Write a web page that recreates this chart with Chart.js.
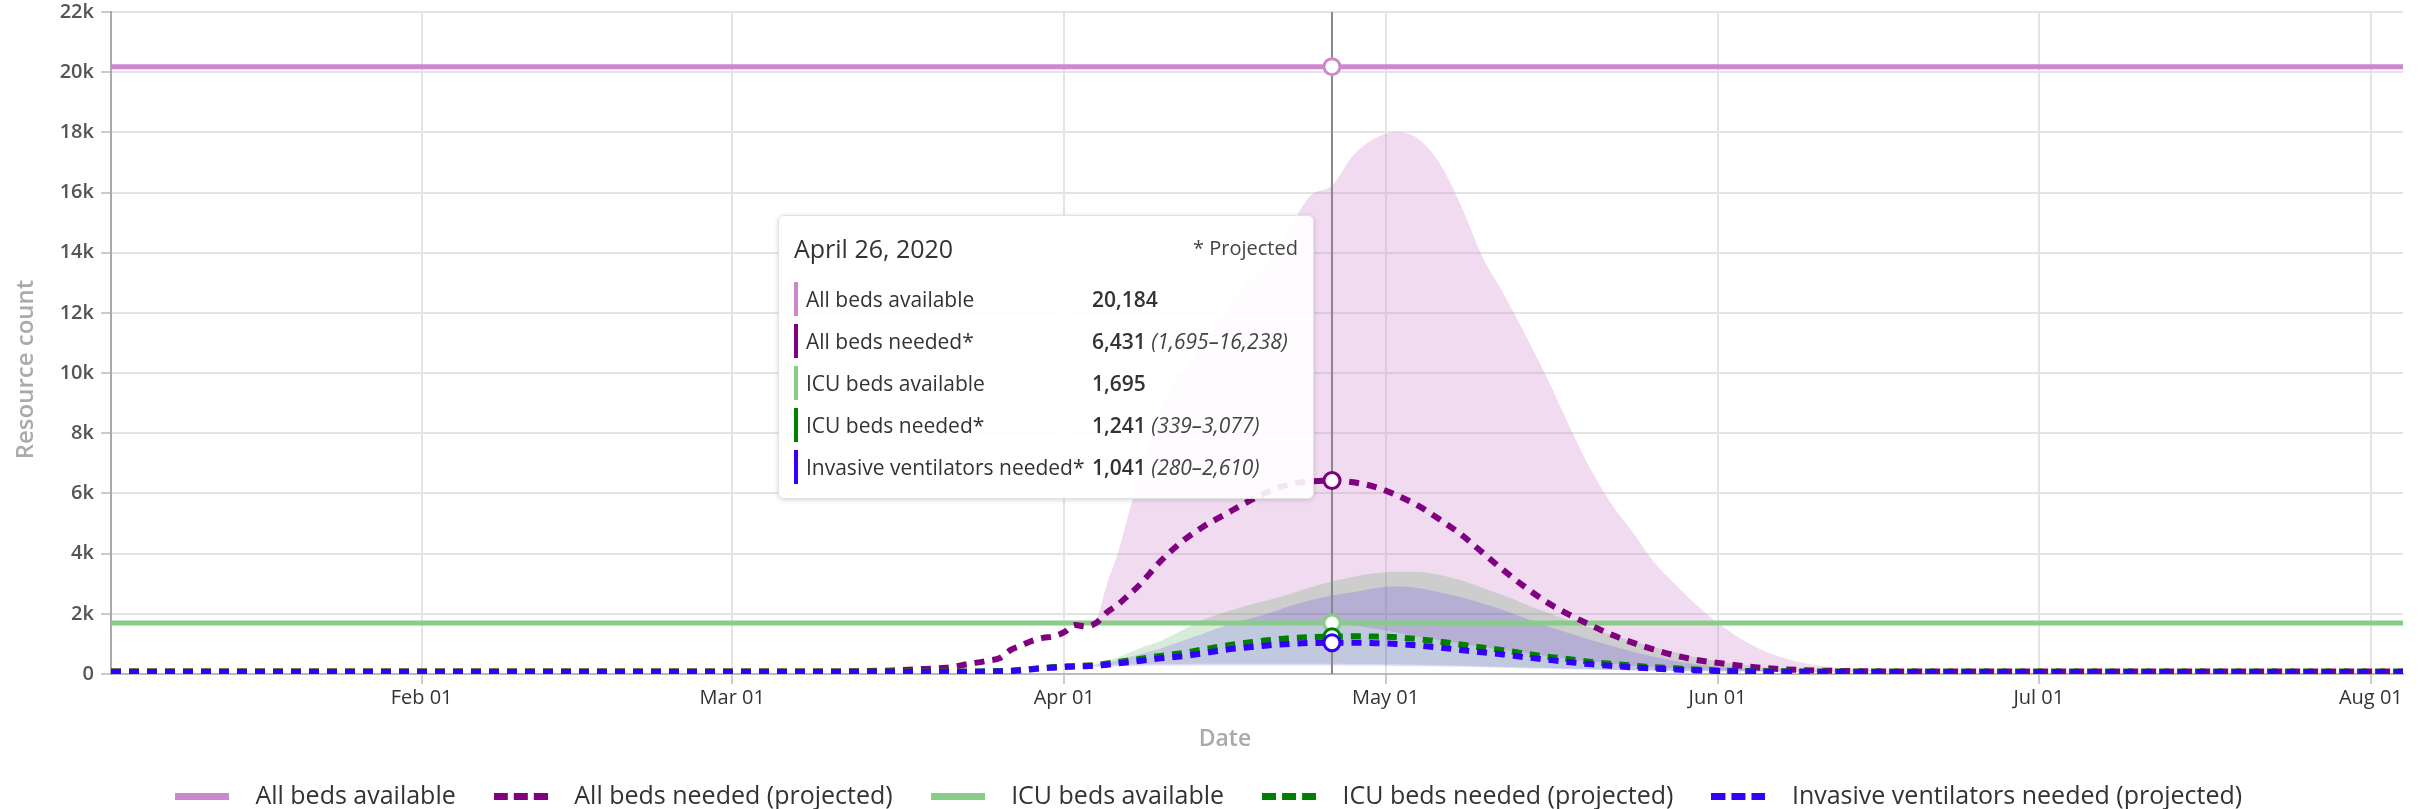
<!DOCTYPE html>
<html>
<head>
<meta charset="utf-8">
<title>Hospital resource use</title>
<script src="https://cdn.jsdelivr.net/npm/chart.js@4.4.1/dist/chart.umd.min.js"></script>
<style>
  html, body { margin: 0; padding: 0; background: #fff; }
  #wrap { position: relative; width: 2427px; height: 809px; overflow: hidden; }
  #tip {
    position: absolute; display: none; box-sizing: border-box;
    width: 536px; height: 284px; padding: 0 15px;
    background: rgba(255, 255, 255, 0.9);
    border: 1px solid #e2e2e2; border-radius: 6px;
    box-shadow: 0 1px 5px rgba(0, 0, 0, 0.16);
    font-family: 'Open Sans', sans-serif; color: #333;
  }
  #tip .head { display: flex; justify-content: space-between; height: 62px; line-height: 64px; }
  #tip .title { font-size: 25px; font-weight: 500; }
  #tip .note { font-size: 20px; color: #444; }
  #tip .row { height: 42px; display: flex; align-items: center; font-size: 21px; white-space: nowrap; }
  #tip .lab { display: inline-block; width: 286px; height: 34px; line-height: 34px; padding-left: 8px; border-left: 4px solid; }
  #tip .val b { font-weight: 600; }
  #tip .val i { color: #444; }
</style>
</head>
<body>
<div id="wrap">
  <canvas id="chart" width="2427" height="809"></canvas>
  <div id="tip"></div>
</div>
<script>
// Projected series (daily model output, sampled)
const projDates = [
  '2020-01-03', '2020-02-01', '2020-03-01', '2020-03-11', '2020-03-16', '2020-03-19', '2020-03-21', '2020-03-23',
  '2020-03-25', '2020-03-26', '2020-03-27', '2020-03-28', '2020-03-29', '2020-03-30', '2020-03-31', '2020-04-01',
  '2020-04-02', '2020-04-03', '2020-04-04', '2020-04-05', '2020-04-06', '2020-04-07', '2020-04-08', '2020-04-10',
  '2020-04-12', '2020-04-14', '2020-04-16', '2020-04-18', '2020-04-20', '2020-04-22', '2020-04-24', '2020-04-26',
  '2020-04-28', '2020-04-30', '2020-05-02', '2020-05-04', '2020-05-06', '2020-05-08', '2020-05-10', '2020-05-12',
  '2020-05-14', '2020-05-16', '2020-05-18', '2020-05-20', '2020-05-22', '2020-05-24', '2020-05-26', '2020-05-28',
  '2020-05-30', '2020-06-01', '2020-06-04', '2020-06-07', '2020-06-11', '2020-06-15', '2020-06-19', '2020-06-29',
  '2020-07-19', '2020-08-04'
];

const allBedsNeeded = [
  80, 80, 80, 85, 120, 170, 210, 330, 450, 530, 800, 950, 1100, 1200, 1250, 1390,
  1630, 1580, 1700, 2050, 2300, 2620, 2950, 3750, 4400, 4900, 5300, 5700, 6050, 6300, 6400, 6431,
  6370, 6220, 5950, 5600, 5150, 4650, 4050, 3450, 2900, 2400, 2000, 1650, 1320, 1050, 820, 620,
  470, 370, 240, 160, 110, 90, 85, 80, 80, 80
];
const allBedsUpper = [
  80, 80, 80, 85, 120, 170, 210, 330, 450, 530, 800, 950, 1100, 1200, 1250, 1390,
  1630, 1580, 1800, 3000, 4000, 5300, 6600, 8800, 10000, 10900, 12000, 13000, 13700, 14800, 15900, 16238,
  17250, 17800, 18000, 17800, 17000, 15600, 13900, 12650, 11300, 9900, 8360, 6900, 5700, 4750, 3750, 3000,
  2300, 1700, 1000, 550, 250, 150, 100, 80, 80, 80
];
const allBedsLower = [
  80, 80, 80, 85, 120, 170, 210, 330, 450, 530, 800, 950, 1100, 1200, 1250, 1390,
  1630, 1580, 1600, 1650, 1660, 1670, 1680, 1690, 1700, 1700, 1700, 1700, 1700, 1700, 1700, 1695,
  1620, 1500, 1380, 1250, 1130, 1010, 900, 800, 700, 600, 500, 420, 350, 280, 230, 190,
  160, 130, 100, 90, 80, 80, 80, 80, 80, 80
];

const icuNeeded = [
  80, 80, 80, 80, 80, 80, 80, 85, 90, 100, 110, 140, 170, 200, 230, 250,
  270, 280, 300, 350, 400, 450, 500, 600, 690, 820, 940, 1040, 1120, 1190, 1225, 1241,
  1255, 1245, 1220, 1160, 1080, 980, 880, 790, 680, 580, 500, 410, 340, 280, 230, 190,
  150, 120, 100, 90, 80, 80, 80, 80, 80, 80
];
const icuUpper = [
  80, 80, 80, 80, 80, 80, 80, 85, 90, 100, 110, 140, 170, 200, 230, 250,
  270, 280, 330, 450, 560, 700, 850, 1100, 1450, 1800, 2050, 2270, 2450, 2650, 2880, 3077,
  3230, 3350, 3400, 3400, 3300, 3120, 2870, 2620, 2330, 2050, 1800, 1550, 1310, 1100, 900, 720,
  560, 430, 280, 180, 120, 95, 85, 80, 80, 80
];
const icuLower = [
  80, 80, 80, 80, 80, 80, 80, 85, 90, 100, 110, 140, 170, 200, 230, 250,
  270, 280, 280, 300, 310, 320, 325, 330, 335, 338, 340, 340, 340, 340, 340, 339,
  335, 330, 320, 310, 295, 280, 260, 240, 220, 200, 180, 160, 145, 130, 115, 105,
  95, 90, 85, 80, 80, 80, 80, 80, 80, 80
];

const ventNeeded = [
  70, 70, 70, 70, 70, 70, 70, 72, 75, 85, 95, 120, 160, 190, 210, 230,
  250, 260, 270, 310, 350, 390, 430, 520, 590, 690, 800, 880, 950, 1000, 1030, 1041,
  1040, 1025, 1000, 950, 880, 800, 720, 650, 560, 480, 400, 330, 270, 220, 180, 150,
  120, 100, 85, 75, 70, 70, 70, 70, 70, 70
];
const ventUpper = [
  70, 70, 70, 70, 70, 70, 70, 72, 75, 85, 95, 120, 160, 190, 210, 230,
  250, 260, 300, 380, 460, 560, 660, 850, 1100, 1350, 1600, 1800, 2000, 2250, 2450, 2610,
  2720, 2850, 2920, 2860, 2720, 2560, 2350, 2130, 1860, 1600, 1370, 1150, 950, 750, 580, 430,
  320, 240, 160, 110, 85, 75, 70, 70, 70, 70
];
const ventLower = [
  70, 70, 70, 70, 70, 70, 70, 72, 75, 85, 95, 120, 160, 190, 210, 230,
  250, 260, 240, 250, 260, 265, 270, 275, 278, 280, 280, 280, 280, 280, 280, 280,
  278, 275, 270, 260, 250, 240, 225, 210, 195, 180, 165, 150, 135, 120, 110, 100,
  90, 85, 80, 75, 70, 70, 70, 70, 70, 70
];

// Capacity (constant)
const availDates = ['2020-01-03', '2020-04-26', '2020-08-04'];
const allBedsAvailable = [20184, 20184, 20184];
const icuBedsAvailable = [1695, 1695, 1695];

const monthTicks = ['2020-02-01', '2020-03-01', '2020-04-01', '2020-05-01', '2020-06-01', '2020-07-01', '2020-08-01'];
const hoverDate = '2020-04-26';

const legendNames = [
  'All beds available', 'All beds needed (projected)', 'ICU beds available',
  'ICU beds needed (projected)', 'Invasive ventilators needed (projected)'
];
const tipNames = [
  'All beds available', 'All beds needed*', 'ICU beds available',
  'ICU beds needed*', 'Invasive ventilators needed*'
];
const colors = ['#cc88cc', '#800080', '#88cc88', '#008000', '#3300ff'];
const isProjected = [false, true, false, true, true];

const DAY0 = Date.UTC(2020, 0, 1);
const MONTHS = ['Jan', 'Feb', 'Mar', 'Apr', 'May', 'Jun', 'Jul', 'Aug', 'Sep', 'Oct', 'Nov', 'Dec'];
const LONG_MONTHS = ['January', 'February', 'March', 'April', 'May', 'June', 'July', 'August', 'September', 'October', 'November', 'December'];
const toDay = s => (Date.parse(s + 'T00:00:00Z') - DAY0) / 864e5;
const pts = (dates, vals) => dates.map((d, i) => ({ x: toDay(d), y: vals[i] }));
const fmt = n => Math.round(n).toLocaleString('en-US');

function tickLabel(day) {
  const d = new Date(DAY0 + day * 864e5);
  return MONTHS[d.getUTCMonth()] + ' ' + String(d.getUTCDate()).padStart(2, '0');
}
function longDate(s) {
  const d = new Date(s + 'T00:00:00Z');
  return LONG_MONTHS[d.getUTCMonth()] + ' ' + d.getUTCDate() + ', ' + d.getUTCFullYear();
}

function lineSet(label, data, color, dashed, order) {
  return {
    label, data, order,
    borderColor: color, backgroundColor: color,
    borderWidth: dashed ? 6 : 5, borderDash: dashed ? [10, 8] : [],
    fill: false, cubicInterpolationMode: 'monotone',
    pointRadius: 0, pointHoverRadius: 8, pointHoverBorderWidth: 3,
    pointHoverBackgroundColor: '#fff', pointHoverBorderColor: color
  };
}
function bandSet(data, color, fill, order) {
  return {
    label: '', data, order,
    borderWidth: 0, borderColor: 'rgba(0,0,0,0)', backgroundColor: color,
    fill: fill ? '+1' : false, cubicInterpolationMode: 'monotone',
    pointRadius: 0, pointHoverRadius: 0
  };
}

// legend swatches: solid bar or three dashes
function swatch(color, dashed) {
  const c = document.createElement('canvas');
  c.width = 54; c.height = 7;
  const g = c.getContext('2d');
  g.fillStyle = color;
  if (dashed) [0, 20, 40].forEach(x => g.fillRect(x, 0, 14, 7));
  else g.fillRect(0, 0, 54, 7);
  return c;
}
const swatches = colors.map((c, i) => swatch(c, isProjected[i]));

function renderTip(context) {
  const { chart, tooltip } = context;
  const tip = document.getElementById('tip');
  if (!tooltip.dataPoints || !tooltip.dataPoints.length) { tip.style.display = 'none'; return; }
  const idx = projDates.indexOf(hoverDate);
  const ranges = [null, [allBedsLower[idx], allBedsUpper[idx]], null,
    [icuLower[idx], icuUpper[idx]], [ventLower[idx], ventUpper[idx]]];
  let html = `<div class="head"><span class="title">${longDate(hoverDate)}</span><span class="note">* Projected</span></div>`;
  tooltip.dataPoints.slice().sort((a, b) => a.datasetIndex - b.datasetIndex).forEach(p => {
    const i = p.datasetIndex;
    const r = ranges[i];
    html += `<div class="row"><span class="lab" style="border-left-color:${colors[i]}">${tipNames[i]}</span>` +
      `<span class="val"><b>${fmt(p.parsed.y)}</b>${r ? ` <i>(${fmt(r[0])}–${fmt(r[1])})</i>` : ''}</span></div>`;
  });
  tip.innerHTML = html;
  tip.style.display = 'block';
  tip.style.left = (tooltip.caretX - 18 - 536) + 'px';
  tip.style.top = (chart.chartArea.top + 203) + 'px';
}

const hoverLine = {
  id: 'hoverLine',
  beforeDatasetsDraw(chart) {
    const act = chart.getActiveElements();
    if (!act.length) return;
    const x = act[0].element.x;
    const { top, bottom } = chart.chartArea;
    const ctx = chart.ctx;
    ctx.save();
    ctx.strokeStyle = '#888';
    ctx.lineWidth = 2;
    ctx.beginPath();
    ctx.moveTo(x, top);
    ctx.lineTo(x, bottom);
    ctx.stroke();
    ctx.restore();
  }
};

// axis titles sit a little off-centre in the original
const axisTitles = {
  id: 'axisTitles',
  afterDraw(chart) {
    const { ctx, chartArea: a } = chart;
    ctx.save();
    ctx.fillStyle = '#aaa';
    ctx.textAlign = 'center';
    ctx.textBaseline = 'middle';
    ctx.font = "600 23px 'Open Sans', sans-serif";
    ctx.fillText('Date', a.left + (a.right - a.left) * 0.486, a.bottom + 65);
    ctx.translate(26, a.top + (a.bottom - a.top) * 0.54);
    ctx.rotate(-Math.PI / 2);
    ctx.font = "600 24px 'Open Sans', sans-serif";
    ctx.fillText('Resource count', 0, 0);
    ctx.restore();
  }
};

Chart.defaults.font.family = "'Open Sans', sans-serif";

const chart = new Chart(document.getElementById('chart'), {
  type: 'line',
  data: {
    datasets: [
      lineSet(legendNames[0], pts(availDates, allBedsAvailable), colors[0], false, 5),
      lineSet(legendNames[1], pts(projDates, allBedsNeeded), colors[1], true, 3),
      lineSet(legendNames[2], pts(availDates, icuBedsAvailable), colors[2], false, 4),
      lineSet(legendNames[3], pts(projDates, icuNeeded), colors[3], true, 2),
      lineSet(legendNames[4], pts(projDates, ventNeeded), colors[4], true, 1),
      bandSet(pts(projDates, ventUpper), 'rgba(51,0,255,0.15)', true, 6),
      bandSet(pts(projDates, ventLower), 'rgba(51,0,255,0.15)', false, 6),
      bandSet(pts(projDates, icuUpper), 'rgba(0,128,0,0.15)', true, 7),
      bandSet(pts(projDates, icuLower), 'rgba(0,128,0,0.15)', false, 7),
      bandSet(pts(projDates, allBedsUpper), 'rgba(204,136,204,0.3)', true, 8),
      bandSet(pts(projDates, allBedsLower), 'rgba(204,136,204,0.3)', false, 8)
    ]
  },
  options: {
    responsive: false,
    animation: false,
    events: [],
    layout: { padding: { left: 0, right: 24, top: 12, bottom: -10 } },
    interaction: { mode: 'index', intersect: false },
    scales: {
      x: {
        type: 'linear',
        min: toDay('2020-01-03'),
        max: toDay('2020-08-04'),
        afterBuildTicks: axis => { axis.ticks = monthTicks.map(d => ({ value: toDay(d) })); },
        afterFit: scale => { scale.height = 86; },
        ticks: {
          callback: v => tickLabel(v),
          autoSkip: false, maxRotation: 0, padding: 2,
          color: '#333', font: { size: 20 }
        },
        grid: { color: '#e4e4e4', lineWidth: 2, tickLength: 10, tickColor: '#ccc' },
        border: { color: '#bbb', width: 2 },
        title: { display: false }
      },
      y: {
        min: 0,
        max: 22000,
        afterFit: scale => { scale.width = 111; scale.paddingTop = 0; },
        ticks: {
          stepSize: 2000, padding: 7,
          callback: v => (v === 0 ? '0' : v / 1000 + 'k'),
          color: '#555', font: { size: 20, weight: '600' }
        },
        grid: { color: '#e4e4e4', lineWidth: 2, tickLength: 10, tickColor: '#ccc' },
        border: { color: '#aaa', width: 2 },
        title: { display: false }
      }
    },
    plugins: {
      filler: { drawTime: 'beforeDatasetsDraw' },
      legend: {
        position: 'bottom',
        labels: {
          usePointStyle: true,
          pointStyleWidth: 82,
          padding: 24,
          color: '#333',
          font: { size: 25 },
          generateLabels: () => legendNames.map((text, i) => ({
            text, datasetIndex: i, pointStyle: swatches[i],
            fillStyle: colors[i], strokeStyle: colors[i], lineWidth: 0,
            hidden: false, fontColor: '#333'
          }))
        }
      },
      tooltip: {
        enabled: false,
        external: renderTip,
        filter: item => item.datasetIndex < 5
      }
    }
  },
  plugins: [hoverLine, axisTitles]
});

// show the hover state for April 26
const pi = projDates.indexOf(hoverDate);
const ai = availDates.indexOf(hoverDate);
const active = [0, 1, 2, 3, 4].map(d => ({ datasetIndex: d, index: (d === 0 || d === 2) ? ai : pi }));
chart.setActiveElements(active);
chart.tooltip.setActiveElements(active, { x: chart.scales.x.getPixelForValue(toDay(hoverDate)), y: chart.chartArea.top });
chart.update();
</script>
</body>
</html>
